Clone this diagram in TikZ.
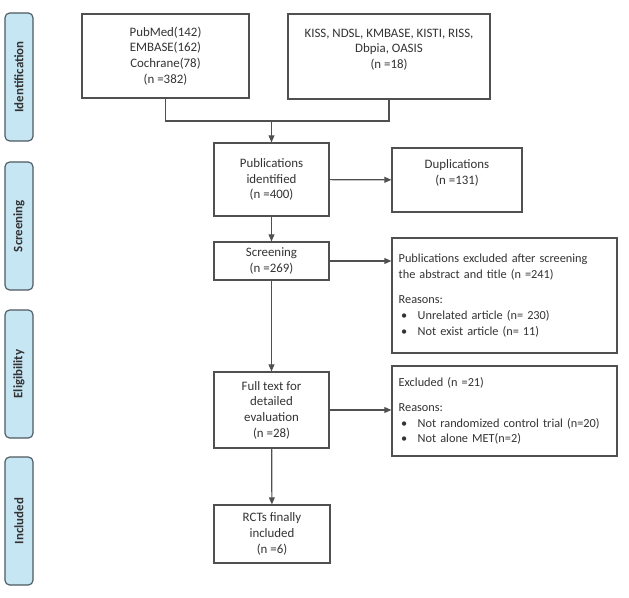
\documentclass[tikz,border=0pt]{standalone}
\usepackage{fontspec}
\setmainfont{Carlito}
\usetikzlibrary{arrows.meta}
\definecolor{boxline}{HTML}{505050}
\definecolor{boxtext}{HTML}{333333}
\definecolor{phasefill}{HTML}{C6E6F4}
\definecolor{phaseline}{HTML}{4E5A60}
\begin{document}
\begin{tikzpicture}[x=0.03cm, y=-0.03cm,
  phase/.style={draw=phaseline, fill=phasefill, rounded corners=4pt, line width=1pt, rotate=90,
    minimum width=3.84cm, minimum height=0.84cm, font=\fontsize{11}{13}\selectfont\bfseries, text=black!80},
  stage/.style={draw=boxline, line width=1pt, align=center, text=boxtext, font=\fontsize{11}{13.4}\selectfont, inner sep=2pt},
  note/.style={stage, align=left, text width=6.35cm, inner xsep=0.2cm, font=\fontsize{10.5}{13.4}\selectfont},
  >={Triangle[length=6pt,width=5pt]}]
\useasboundingbox (0,0) rectangle (629,597);
% phases
\node[phase] (p1) at (19,77)  {Identification};
\node[phase] (p2) at (19,226) {Screening};
\node[phase] (p3) at (19,374) {Eligibility};
\node[phase] (p4) at (19,521) {Included};
% boxes
\node[stage, minimum width=5.01cm, minimum height=2.52cm] (src1) at (165.5,56) {PubMed(142)\\EMBASE(162)\\Cochrane(78)\\(n =382)};
\node[stage, minimum width=6.06cm, minimum height=2.55cm] (src2) at (389,56.5) {KISS, NDSL, KMBASE, KISTI, RISS,\\Dbpia, OASIS\\(n =18)\\\mbox{}};
\node[stage, minimum width=3.45cm, minimum height=2.19cm] (ident) at (271.5,179.5) {Publications\\identified\\(n =400)};
\node[stage, minimum width=3.9cm, minimum height=1.92cm] (dup) at (457,180) {Duplications\\(n =131)\\\mbox{}};
\node[stage, minimum width=3.45cm, minimum height=1.14cm] (screen) at (271.5,261) {Screening\\(n =269)};
\node[note, minimum height=3.45cm] (excl1) at (504.5,295.5) {Publications excluded after screening\\the abstract and title (n =241)\\[8pt]
  Reasons:\\\hspace{2pt}\textbullet\hspace{9pt}Unrelated article (n= 230)\\\hspace{2pt}\textbullet\hspace{9pt}Not exist article (n= 11)};
\node[stage, minimum width=3.45cm, minimum height=2.28cm] (full) at (271.5,410) {Full text for\\detailed\\evaluation\\(n =28)};
\node[note, minimum height=2.7cm] (excl2) at (504.5,411) {Excluded (n =21)\\[8pt]
  Reasons:\\\hspace{2pt}\textbullet\hspace{9pt}Not randomized control trial (n=20)\\\hspace{2pt}\textbullet\hspace{9pt}Not alone MET(n=2)};
\node[stage, minimum width=3.48cm, minimum height=1.74cm] (rct) at (272,534) {RCTs finally\\included\\(n =6)};
% connectors
\coordinate (join) at (271.5,121);
\draw[boxline, line width=1pt] (src1.south) |- (join) -| (src2.south);
\draw[->, boxline, line width=1pt] (join) -- (ident);
\draw[->, boxline, line width=1pt] (ident) -- (dup);
\draw[->, boxline, line width=1pt] (ident) -- (screen);
\draw[->, boxline, line width=1pt] (screen) -- (screen -| excl1.west);
\draw[->, boxline, line width=1pt] (screen) -- (full);
\draw[->, boxline, line width=1pt] (full.east) -- (full.east -| excl2.west);
\draw[->, boxline, line width=1pt] (full) -- (rct);
\end{tikzpicture}
\end{document}
